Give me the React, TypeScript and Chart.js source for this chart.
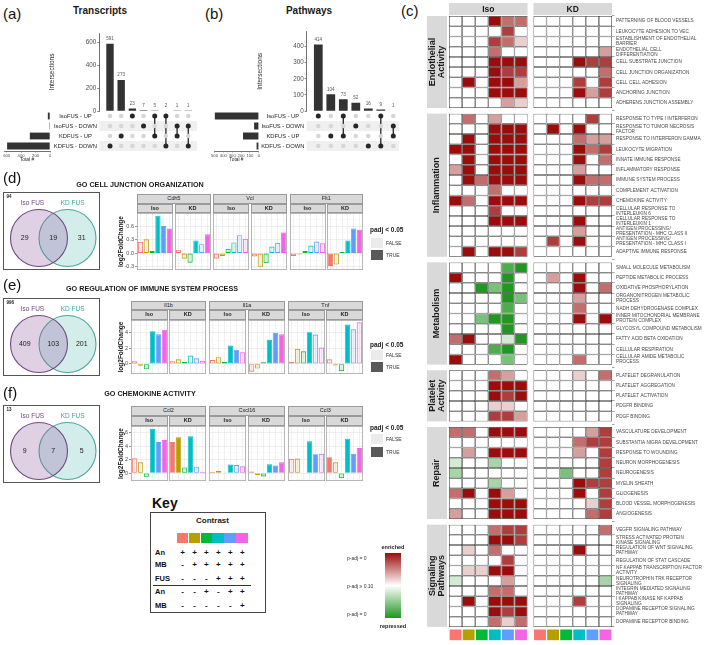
import React, { useEffect, useRef } from 'react';
import { Chart, registerables } from 'chart.js';

Chart.register(...registerables);

const FONT = "'Liberation Sans', Arial, Helvetica, sans-serif";
Chart.defaults.font.family = FONT;
Chart.defaults.color = '#4d4d4d';

/* ============================ DATA ============================ */
const CONTRAST_COLORS = ['#F8766D', '#B79F00', '#00BA38', '#00BFC4', '#619CFF', '#F564E3'];
const SET_NAMES = ['IsoFUS - UP', 'IsoFUS - DOWN', 'KDFUS - UP', 'KDFUS - DOWN'];

// (a) Transcripts upset
const TX_INTERSECTIONS = [591, 273, 23, 7, 5, 2, 1, 1];
const TX_MEMBERS = [[3], [2], [0], [1], [0, 2], [0, 3], [1, 2], [1, 3]];
const TX_SET_SIZES = [30, 9, 279, 594];
const TX_COUNT_TICKS = [0, 200, 400, 600];
const TX_TOTAL_TICKS = [0, 200, 400, 600];

// (b) Pathways upset
const PW_INTERSECTIONS = [414, 104, 73, 52, 16, 9, 1];
const PW_MEMBERS = [[0], [2], [0, 2], [1], [3], [0, 3], [1, 2]];
const PW_SET_SIZES = [496, 53, 178, 25];
const PW_COUNT_TICKS = [0, 100, 200, 300, 400];
const PW_TOTAL_TICKS = [0, 100, 200, 300, 400, 500];

// (c) heatmap: levels -5 (repressed) .. 0 (n.s.) .. 5 (enriched); 6 Iso columns then 6 KD columns
const HM_FACETS = ['Iso', 'KD'];
const HM_GROUPS = [['Endothelial', 'Activity'], ['Inflammation'], ['Metabolism'], ['Platelet', 'Activity'], ['Repair'], ['Signaling', 'Pathways']];

const HM_ENDOTHELIAL_TERMS: any[] = [
  'PATTERNING OF BLOOD VESSELS', 'LEUKOCYTE ADHESION TO VEC', ['ESTABLISHMENT OF ENDOTHELIAL', 'BARRIER'],
  ['ENDOTHELIAL CELL', 'DIFFERENTIATION'], 'CELL SUBSTRATE JUNCTION', 'CELL JUNCTION ORGANIZATION',
  'CELL CELL ADHESION', 'ANCHORING JUNCTION', 'ADHERENS JUNCTION ASSEMBLY',
];
const HM_ENDOTHELIAL = [
  [0, 0, 0, 5, 3, 3, 0, 0, 0, 0, 0, 0],
  [0, 0, 0, 0, 4, 0, 0, 0, 0, 0, 0, 0],
  [0, 0, 0, 4, 3, 1, 0, 0, 0, 0, 0, 0],
  [0, 0, 0, 3, 0, 0, 0, 0, 0, 0, 0, 2],
  [0, 0, 0, 5, 5, 5, 0, 0, 0, 5, 4, 4],
  [0, 0, 0, 5, 4, 4, 0, 0, 0, 0, 0, 3],
  [0, 5, 0, 5, 5, 2, 0, 0, 0, 4, 0, 4],
  [0, 0, 0, 5, 5, 5, 0, 0, 0, 5, 2, 4],
  [0, 0, 0, 0, 2, 1, 0, 0, 0, 0, 0, 0],
];

const HM_INFLAMMATION_TERMS: any[] = [
  'RESPONSE TO TYPE I INTERFERON', ['RESPONSE TO TUMOR NECROSIS', 'FACTOR'], 'RESPONSE TO INTERFERON GAMMA',
  'LEUKOCYTE MIGRATION', 'INNATE IMMUNE RESPONSE', 'INFLAMMATORY RESPONSE', 'IMMUNE SYSTEM PROCESS',
  'COMPLEMENT ACTIVATION', 'CHEMOKINE ACTIVITY', ['CELLULAR RESPONSE TO', 'INTERLEUKIN 6'],
  ['CELLULAR RESPONSE TO', 'INTERLEUKIN 1'], ['ANTIGEN PROCESSING/', 'PRESENTATION - MHC CLASS II'],
  ['ANTIGEN PROCESSING/', 'PRESENTATION - MHC CLASS I'], 'ADAPTIVE IMMUNE RESPONSE',
];
const HM_INFLAMMATION = [
  [0, 3, 0, 2, 0, 0, 0, 0, 0, 0, 4, 0],
  [0, 0, 0, 5, 5, 5, 0, 5, 0, 5, 0, 0],
  [0, 5, 0, 5, 5, 5, 0, 0, 0, 3, 2, 2],
  [5, 5, 0, 5, 5, 5, 0, 0, 0, 5, 3, 4],
  [0, 5, 0, 5, 5, 5, 0, 0, 0, 5, 0, 3],
  [2, 5, 0, 5, 5, 5, 0, 0, 0, 2, 0, 0],
  [0, 5, 3, 5, 5, 5, 0, 0, 0, 5, 3, 3],
  [0, 0, 0, 3, 0, 0, 0, 0, 0, 0, 0, 0],
  [5, 3, 0, 5, 5, 5, 0, 0, 0, 5, 4, 4],
  [0, 0, 0, 4, 0, 0, 0, 0, 0, 0, 0, 0],
  [0, 0, 0, 5, 5, 5, 0, 0, 0, 5, 0, 0],
  [0, 0, 0, 0, 0, 0, 0, 0, 0, 2, 0, 0],
  [0, 0, 0, 0, 0, 0, 0, 4, 0, 5, 0, 0],
  [0, 5, 0, 5, 5, 4, 0, 0, 0, 0, 0, 0],
];

const HM_METABOLISM_TERMS: any[] = [
  'SMALL MOLECULE METABOLISM', 'PEPTIDE METABOLIC PROCESS', 'OXIDATIVE PHOSPHORYLATION',
  ['ORGANONITROGEN METABOLIC', 'PROCESS'], 'NADH DEHYDROGENASE COMPLEX',
  ['INNER MITOCHONDRIAL MEMBRANE', 'PROTEIN COMPLEX'], 'GLYCOSYL COMPOUND METABOLISM',
  'FATTY ACID BETA OXIDATION', 'CELLULAR RESPIRATION', ['CELLULAR AMIDE METABOLIC', 'PROCESS'],
];
const HM_METABOLISM = [
  [0, 0, 0, 0, -4, -5, 0, 0, 0, 0, 0, 0],
  [5, 0, 0, 0, -5, 0, 0, 2, 0, 5, 0, 0],
  [0, 0, -5, -3, -5, 0, 0, 0, 0, 5, 0, 3],
  [0, 0, 0, 0, -5, -3, 0, 0, 0, 2, 0, 0],
  [0, 0, 0, 0, -4, 0, 0, 0, 0, 3, 0, 0],
  [0, 0, -3, -5, -5, 0, 0, 0, 0, 5, 0, 5],
  [0, 0, 0, 0, -5, 0, 0, 0, 0, 0, 0, 0],
  [3, 5, 0, 0, -1, -5, 0, 0, 0, 0, 0, 0],
  [0, 0, 0, -4, -5, 0, 0, 0, 0, 0, 0, 0],
  [5, 0, 0, 0, -3, 0, 0, 0, 0, 3, 0, 0],
];

const HM_PLATELET_TERMS: any[] = [
  'PLATELET DEGRANULATION', 'PLATELET AGGREGATION', 'PLATELET ACTIVATION', 'PDGFR BINDING', 'PDGF BINDING',
];
const HM_PLATELET = [
  [0, 0, 0, 3, 2, 0, 0, 0, 0, 1, 0, 3],
  [0, 0, 0, 5, 5, 5, 0, 0, 0, 0, 0, 0],
  [0, 0, 0, 5, 4, 5, 0, 0, 0, 0, 0, 0],
  [0, 0, 0, 1, 1, 0, 0, 0, 0, 0, 0, 0],
  [0, 0, 0, 4, 4, 2, 0, 0, 0, 0, 0, 0],
];

const HM_REPAIR_TERMS: any[] = [
  'VASCULATURE DEVELOPMENT', 'SUBSTANTIA NIGRA DEVELOPMENT', 'RESPONSE TO WOUNDING', 'NEURON MORPHOGENESIS',
  'NEUROGENESIS', 'MYELIN SHEATH', 'GLIOGENESIS', 'BLOOD VESSEL MORPHOGENESIS', 'ANGIOGENESIS',
];
const HM_REPAIR = [
  [3, 3, 0, 5, 5, 5, 0, 0, 0, 0, 2, 4],
  [0, 0, 0, 0, 0, 0, 0, 0, 0, 3, 4, 4],
  [0, 2, 0, 5, 5, 5, 0, 0, 0, 2, 0, 4],
  [-1, 0, 0, -2, 0, 0, 0, 0, 0, 0, 0, 4],
  [-2, 0, 0, 0, 0, 0, 0, 0, -3, 0, 0, 4],
  [0, 0, 0, -2, 0, 0, 0, 0, 0, 5, 4, 4],
  [3, 5, 0, 5, 2, 0, 0, 0, 0, 5, 0, 4],
  [0, 0, 0, 5, 5, 5, 0, 0, 0, 0, 1, 4],
  [2, 0, 0, 5, 5, 5, 0, 0, 0, 0, 3, 4],
];

const HM_SIGNALING_TERMS: any[] = [
  'VEGFR SIGNALING PATHWAY', ['STRESS ACTIVATED PROTEIN', 'KINASE SIGNALING'], ['REGULATION OF WNT SIGNALING', 'PATHWAY'],
  'REGULATION OF STAT CASCADE', ['NF KAPPAB TRANSCRIPTION FACTOR', 'ACTIVITY'], ['NEUROTROPHIN TRK RECEPTOR', 'SIGNALING'],
  ['INTEGRIN MEDIATED SIGNALING', 'PATHWAY'], ['I KAPPAB KINASE NF KAPPAB', 'SIGNALING'],
  ['DOPAMINE RECEPTOR SIGNALING', 'PATHWAY'], 'DOPAMINE RECEPTOR BINDING',
];
const HM_SIGNALING = [
  [0, 0, 0, 3, 4, 4, 0, 0, 0, 0, 0, 3],
  [0, 0, 0, 5, 5, 4, 0, 0, 0, 0, 0, 0],
  [0, 1, 0, 3, 0, 0, 0, 0, 0, 5, 0, 0],
  [0, 0, 0, 0, 4, 0, 0, 0, 0, 0, 0, 0],
  [0, 1, 1, 5, 5, 0, 0, 0, 0, 0, 0, 0],
  [-1, 0, 0, 0, 2, 0, 0, 0, 0, 0, 0, -2],
  [0, 0, 0, 3, 3, 0, 0, 0, 0, 0, 0, 0],
  [0, 5, 0, 5, 5, 5, 0, 0, 0, 4, 0, 0],
  [0, 0, 0, 5, 4, 5, 0, 0, 0, 0, 0, 0],
  [0, 0, 0, 3, 1, 3, 0, 0, 0, 0, 0, 0],
];

// (d) GO cell junction organization — facets: gene x (Iso, KD), 6 contrasts each
const D_GENES = ['Cdh5', 'Vcl', 'Flt1'];
const D_LFC = [
  [0.25, 0.31, 0.05, 0.83, 0.6, 0.55],
  [0.08, -0.12, -0.21, 0.28, 0.2, 0.42],
  [-0.12, -0.06, 0.1, 0.24, 0.4, 0.32],
  [-0.07, -0.31, -0.22, 0.15, 0.23, 0.46],
  [-0.06, -0.03, 0.05, 0.17, 0.26, 0.22],
  [-0.28, -0.25, 0.03, 0.28, 0.55, 0.52],
];
const D_SIG = [
  [0, 0, 0, 1, 1, 1],
  [0, 0, 0, 1, 0, 1],
  [0, 0, 0, 0, 0, 0],
  [0, 0, 0, 0, 0, 1],
  [0, 0, 0, 0, 0, 0],
  [1, 0, 1, 1, 1, 1],
];
const D_MAJOR = [-0.3, 0, 0.3, 0.6];
const D_MINOR = [-0.15, 0.15, 0.45, 0.75];
const D_VENN = [29, 19, 31];
const D_VENN_TOTAL = 94;

// (e) GO regulation of immune system process
const E_GENES = ['Il1b', 'Il1a', 'Tnf'];
const E_LFC = [
  [0.35, -0.25, -0.7, 4.2, 3.8, 4.4],
  [0.35, 0.6, 0.25, 1.07, 0.73, 0.4],
  [0.5, 0.86, 0.25, 2.36, 1.8, 1.5],
  [-1.0, -0.6, 0.2, 3.1, 4.0, 3.8],
  [0.25, 1.93, 1.63, 4.08, 3.78, 2.1],
  [0.6, -0.2, -0.94, 5.06, 4.46, 5.36],
];
const E_SIG = [
  [0, 0, 0, 1, 1, 1],
  [0, 0, 0, 0, 0, 0],
  [0, 0, 0, 1, 1, 0],
  [0, 0, 0, 1, 1, 1],
  [0, 0, 0, 1, 0, 0],
  [0, 0, 0, 1, 0, 0],
];
const E_MAJOR = [0, 2, 4];
const E_MINOR = [-1, 1, 3, 5];
const E_VENN = [409, 103, 201];
const E_VENN_TOTAL = 996;

// (f) GO chemokine activity
const F_GENES = ['Ccl2', 'Cxcl16', 'Ccl3'];
const F_LFC = [
  [2.2, 1.6, -0.55, 6.55, 4.6, 4.9],
  [4.6, 5.3, 0.84, 5.45, 0.95, 0.2],
  [0.15, 0.3, 0.1, 1.28, 1.2, 1.0],
  [0.25, -0.3, -0.5, 1.3, 1.13, 1.6],
  [2.1, 2.15, 0.05, 4.7, 2.8, 2.86],
  [2.36, 1.6, -0.74, 5.1, 2.86, 3.7],
];
const F_SIG = [
  [0, 0, 0, 1, 1, 1],
  [1, 1, 0, 1, 0, 0],
  [0, 0, 0, 1, 0, 0],
  [0, 0, 0, 1, 1, 1],
  [0, 0, 1, 1, 1, 0],
  [1, 0, 0, 1, 1, 1],
];
const F_MAJOR = [0, 2, 4, 6];
const F_MINOR = [-1, 1, 3, 5];
const F_VENN = [9, 7, 5];
const F_VENN_TOTAL = 13;

const VENN_SETS = ['Iso FUS', 'KD FUS'];
const FACET_CONDITIONS = ['Iso', 'KD'];

// Key
const KEY_FACTORS = ['An', 'MB', 'FUS', 'An', 'MB'];
const KEY_SIGNS = [
  ['+', '+', '+', '+', '+', '+'],
  ['-', '+', '+', '+', '+', '+'],
  ['-', '-', '-', '+', '+', '+'],
  ['-', '-', '+', '-', '+', '+'],
  ['-', '-', '-', '-', '-', '+'],
];

/* ============================ HELPERS ============================ */
const BASE: any = {
  responsive: false,
  maintainAspectRatio: false,
  animation: false,
  events: [],
  layout: { padding: 0, autoPadding: false },
  plugins: { legend: { display: false }, tooltip: { enabled: false }, title: { display: false } },
};

// fix an axis' thickness and drop the label overhang padding Chart.js adds
const fixW = (w: number) => (s: any) => { s.width = w; s.paddingTop = 0; s.paddingBottom = 0; };
const fixH = (h: number) => (s: any) => { s.height = h; s.paddingLeft = 0; s.paddingRight = 0; };

function ChartCanvas({ x, y, w, h, make }: any) {
  const ref = useRef<HTMLCanvasElement | null>(null);
  useEffect(() => {
    const chart = new Chart(ref.current as HTMLCanvasElement, make());
    return () => chart.destroy();
  }, []);
  return (
    <canvas
      ref={ref}
      width={w}
      height={h}
      style={{ position: 'absolute', left: x, top: y, width: w, height: h }}
    />
  );
}

function Label({ x, y, text, size, bold, color = '#1a1a1a', align = 'left' }: any) {
  const tx = align === 'center' ? '-50%' : align === 'right' ? '-100%' : '0';
  return (
    <div
      style={{
        position: 'absolute', left: x, top: y, transform: `translate(${tx}, -50%)`,
        fontSize: size, fontWeight: bold ? 700 : 400, color, fontFamily: FONT,
        whiteSpace: 'nowrap', lineHeight: 1,
      }}
    >
      {text}
    </div>
  );
}

function withAlpha(hex: string, a: number) {
  const n = parseInt(hex.slice(1), 16);
  return `rgba(${(n >> 16) & 255},${(n >> 8) & 255},${n & 255},${a})`;
}

const framePlugin = (color: string, lw: number) => ({
  id: 'frame',
  afterDraw(chart: any) {
    const { ctx, chartArea: a } = chart;
    ctx.save();
    ctx.strokeStyle = color;
    ctx.lineWidth = lw;
    ctx.strokeRect(a.left + lw / 2, a.top + lw / 2, a.right - a.left - lw, a.bottom - a.top - lw);
    ctx.restore();
  },
});

/* ---------- upset ---------- */
const barLabelPlugin = {
  id: 'barLabels',
  afterDatasetsDraw(chart: any) {
    const { ctx } = chart;
    const meta = chart.getDatasetMeta(0);
    const ds = chart.data.datasets[0].data;
    ctx.save();
    ctx.font = `4.6px ${FONT}`;
    ctx.fillStyle = '#555';
    ctx.textAlign = 'center';
    ctx.textBaseline = 'bottom';
    meta.data.forEach((el: any, i: number) => ctx.fillText(String(ds[i].y), el.x, el.y - 2.5));
    ctx.restore();
  },
};

const stripePlugin = {
  id: 'stripes',
  beforeDatasetsDraw(chart: any) {
    const { ctx, chartArea: a, scales } = chart;
    const y = scales.y;
    ctx.save();
    ctx.fillStyle = '#f0f0f0';
    SET_NAMES.forEach((_, j) => {
      if (j % 2 === 1) {
        const t = y.getPixelForValue(j - 0.5);
        const b = y.getPixelForValue(j + 0.5);
        ctx.fillRect(a.left, t, a.right - a.left, b - t);
      }
    });
    ctx.restore();
  },
};

function upsetBarConfig(inter: number[], ticks: number[], L: any) {
  return {
    type: 'bar',
    data: {
      datasets: [{
        data: inter.map((v, i) => ({ x: i, y: v })),
        backgroundColor: '#333333', barPercentage: L.barRatio, categoryPercentage: 1,
        grouped: false, inflateAmount: 0,
      }],
    },
    options: {
      ...BASE,
      layout: { autoPadding: false, padding: { top: L.barPadTop, left: 0, right: 0, bottom: 5 } },
      scales: {
        x: {
          type: 'linear', display: false, min: L.xMin, max: L.xMax, offset: false,
          afterBuildTicks: (s: any) => { s.ticks = inter.map((_, i) => ({ value: i })); },
        },
        y: {
          type: 'linear', min: 0, max: L.yMax,
          afterBuildTicks: (s: any) => { s.ticks = ticks.map((v) => ({ value: v })); },
          afterFit: fixW(L.axisW),
          ticks: { autoSkip: false, font: { size: 6.3 }, color: '#4d4d4d', padding: 1 },
          grid: { drawOnChartArea: false, drawTicks: true, tickLength: 2, color: '#4d4d4d', lineWidth: 0.7 },
          border: { display: true, color: '#4d4d4d', width: 0.8 },
          title: { display: true, text: 'Intersections', font: { size: 6.5 }, color: '#262626', padding: { top: L.titlePad, bottom: 0 } },
        },
      },
    },
    plugins: [barLabelPlugin],
  };
}

function upsetMatrixConfig(members: number[][], L: any) {
  const grey: any[] = [];
  members.forEach((m, i) => SET_NAMES.forEach((_, j) => { if (!m.includes(j)) grey.push({ x: i, y: j }); }));
  return {
    type: 'scatter',
    data: {
      datasets: [
        { data: grey, pointRadius: 2.3, backgroundColor: '#d6d6d6', pointBorderWidth: 0, borderWidth: 0, showLine: false, clip: false },
        ...members.map((m, i) => ({
          data: m.map((j) => ({ x: i, y: j })), showLine: true, borderColor: '#262626', borderWidth: 1.3,
          pointRadius: 2.5, backgroundColor: '#262626', pointBorderWidth: 0, clip: false,
        })),
      ],
    },
    options: {
      ...BASE,
      scales: {
        x: { type: 'linear', display: false, min: L.xMin, max: L.xMax },
        y: {
          type: 'linear', reverse: true, min: -0.5, max: 3.5,
          afterBuildTicks: (s: any) => { s.ticks = SET_NAMES.map((_, j) => ({ value: j })); },
          afterFit: fixW(L.matAxisW),
          ticks: {
            autoSkip: false, crossAlign: 'center', font: { size: 5.8 }, color: '#1f1f1f', padding: 2.3,
            callback: (v: any) => SET_NAMES[v],
          },
          grid: { display: false, drawTicks: false },
          border: { display: false },
        },
      },
    },
    plugins: [stripePlugin],
  };
}

function upsetSizeConfig(sizes: number[], ticks: number[], L: any) {
  return {
    type: 'bar',
    data: {
      datasets: [{
        data: sizes.map((v, j) => ({ y: j, x: v })),
        backgroundColor: '#333333', barPercentage: 0.68, categoryPercentage: 1, grouped: false, inflateAmount: 0,
      }],
    },
    options: {
      ...BASE,
      indexAxis: 'y',
      layout: { autoPadding: false, padding: { right: L.sizePadRight, left: L.sizePadLeft, top: 0, bottom: 0 } },
      scales: {
        y: {
          type: 'linear', display: false, reverse: true, min: -0.5, max: 3.5, offset: false,
          afterBuildTicks: (s: any) => { s.ticks = sizes.map((_, j) => ({ value: j })); },
        },
        x: {
          type: 'linear', reverse: true, min: 0, max: L.sizeMax,
          afterBuildTicks: (s: any) => { s.ticks = ticks.map((v) => ({ value: v })); },
          afterFit: fixH(12),
          ticks: { autoSkip: false, maxRotation: 0, minRotation: 0, font: { size: 4.2 }, color: '#4d4d4d', padding: 0.5 },
          grid: { drawOnChartArea: false, tickLength: 1.5, color: '#4d4d4d', lineWidth: 0.6 },
          border: { display: true, color: '#4d4d4d', width: 0.8 },
          title: { display: true, text: 'Total #', font: { size: 4.8 }, color: '#262626', padding: 0 },
        },
      },
    },
  };
}

function Upset({ inter, members, sizes, countTicks, totalTicks, L }: any) {
  return (
    <>
      <ChartCanvas {...L.bar} make={() => upsetBarConfig(inter, countTicks, L)} />
      <ChartCanvas {...L.mat} make={() => upsetMatrixConfig(members, L)} />
      <ChartCanvas {...L.size} make={() => upsetSizeConfig(sizes, totalTicks, L)} />
    </>
  );
}

const LAYOUT_A = {
  bar: { x: 45, y: 20, w: 152, h: 96 }, barPadTop: 13, axisW: 54.3, titlePad: 3.1, yMax: 685,
  xMin: -0.957, xMax: 7.78, barRatio: 0.66,
  mat: { x: 50, y: 111.3, w: 147, h: 40 }, matAxisW: 49.3,
  size: { x: 0, y: 111.3, w: 54, h: 52 }, sizePadLeft: 4, sizePadRight: 4, sizeMax: 637,
};
const LAYOUT_B = {
  bar: { x: 253, y: 20, w: 146, h: 96 }, barPadTop: 11.7, axisW: 53.7, titlePad: 3.1, yMax: 493,
  xMin: -0.928, xMax: 6.456, barRatio: 0.7,
  mat: { x: 258, y: 111.3, w: 141, h: 40 }, matAxisW: 48.7,
  size: { x: 205.5, y: 111.3, w: 58, h: 52 }, sizePadLeft: 8, sizePadRight: 5.2, sizeMax: 505.6,
};

/* ---------- heatmap ---------- */
const HM_GROUP_GAP = 0.55;
const HM_FACET_GAP = 0.45;
const HM_BLOCKS = [
  { terms: HM_ENDOTHELIAL_TERMS, levels: HM_ENDOTHELIAL },
  { terms: HM_INFLAMMATION_TERMS, levels: HM_INFLAMMATION },
  { terms: HM_METABOLISM_TERMS, levels: HM_METABOLISM },
  { terms: HM_PLATELET_TERMS, levels: HM_PLATELET },
  { terms: HM_REPAIR_TERMS, levels: HM_REPAIR },
  { terms: HM_SIGNALING_TERMS, levels: HM_SIGNALING },
];
const RED = [155, 12, 12];
const GREEN = [34, 150, 34];
function levelColor(v: any) {
  if (!v) return '#ffffff';
  const t = Math.min(1, Math.abs(v) / 5);
  const c = v > 0 ? RED : GREEN;
  const ch = (k: number) => Math.round(255 + (c[k] - 255) * t);
  return `rgb(${ch(0)},${ch(1)},${ch(2)})`;
}

function heatmapConfig() {
  const rows: any[] = [];
  let k = 0;
  HM_BLOCKS.forEach((blk, g) => blk.levels.forEach((lv, r) => {
    rows.push({ pos: k + g * HM_GROUP_GAP, label: blk.terms[r], levels: lv, g });
    k++;
  }));
  const colorPos = rows[rows.length - 1].pos + 1.28;
  const colX = (c: number) => (c < 6 ? c : c + HM_FACET_GAP);
  const cells: any[] = [];
  rows.forEach((row) => row.levels.forEach((v: number, c: number) => cells.push({ y: row.pos, x: [colX(c), colX(c) + 1], v })));
  const colorCells = HM_FACETS.flatMap((_, f) => CONTRAST_COLORS.map((col, i) => ({ y: colorPos, x: [colX(f * 6 + i), colX(f * 6 + i) + 1], col })));

  const stripPlugin = {
    id: 'heatStrips',
    afterDraw(chart: any) {
      const { ctx, chartArea: a, scales } = chart;
      const { x, y } = scales;
      ctx.save();
      ctx.textAlign = 'center';
      ctx.textBaseline = 'middle';
      HM_FACETS.forEach((f, i) => {
        const l = x.getPixelForValue(i * (6 + HM_FACET_GAP));
        const r = x.getPixelForValue(i * (6 + HM_FACET_GAP) + 6);
        ctx.fillStyle = '#d9d9d9';
        ctx.fillRect(l, 3, r - l, 12);
        ctx.fillStyle = '#1a1a1a';
        ctx.font = `bold 8.5px ${FONT}`;
        ctx.fillText(f, (l + r) / 2, 9.5);
      });
      HM_GROUPS.forEach((lines, g) => {
        const gr = rows.filter((r) => r.g === g);
        const t = y.getPixelForValue(gr[0].pos - 0.5);
        const b = y.getPixelForValue(gr[gr.length - 1].pos + 0.5);
        const l = a.left - 22;
        const w = 20;
        ctx.fillStyle = '#d9d9d9';
        ctx.fillRect(l, t, w, b - t);
        ctx.save();
        ctx.translate(l + w / 2, (t + b) / 2);
        ctx.rotate(-Math.PI / 2);
        ctx.fillStyle = '#1a1a1a';
        ctx.font = `bold 9px ${FONT}`;
        lines.forEach((ln, li) => ctx.fillText(ln, 0, (li - (lines.length - 1) / 2) * 9.5));
        ctx.restore();
      });
      ctx.restore();
    },
  };

  return {
    type: 'bar',
    data: {
      datasets: [
        {
          data: cells,
          backgroundColor: (c: any) => levelColor(c.raw ? c.raw.v : 0),
          borderColor: '#3a3a3a', borderWidth: 0.75, borderSkipped: false, inflateAmount: 0,
          barPercentage: 1, categoryPercentage: 1, grouped: false,
        },
        {
          data: colorCells,
          backgroundColor: (c: any) => (c.raw ? c.raw.col : '#ffffff'),
          borderColor: '#ffffff', borderWidth: 0.6, borderSkipped: false, inflateAmount: 0,
          barPercentage: 1.17, categoryPercentage: 1, grouped: false, clip: false,
        },
      ],
    },
    options: {
      ...BASE,
      indexAxis: 'y',
      layout: { autoPadding: false, padding: { left: 49, top: 16, bottom: 4, right: 0 } },
      scales: {
        x: { type: 'linear', display: false, min: 0, max: 12 + HM_FACET_GAP },
        y: {
          type: 'linear', position: 'right', reverse: true, offset: false, min: -0.5, max: colorPos + 0.6,
          afterBuildTicks: (s: any) => { s.ticks = rows.map((r) => ({ value: r.pos })); },
          afterFit: fixW(97),
          ticks: {
            autoSkip: false, font: { size: 4.7, lineHeight: 1.05 }, color: '#474747', padding: 1.5,
            callback: (_v: any, i: number) => rows[i].label,
          },
          grid: { drawOnChartArea: false, drawTicks: true, tickLength: 2.5, color: '#666', lineWidth: 0.6 },
          border: { display: false },
        },
      },
    },
    plugins: [stripPlugin],
  };
}

/* ---------- facet bar rows ---------- */
function panelConfig(values: number[], sig: number[], R: any, showAxis: boolean) {
  const ticks = [...R.major, ...R.minor].sort((a: number, b: number) => a - b);
  const isMajor = (v: number) => R.major.some((m: number) => Math.abs(m - v) < 1e-9);
  return {
    type: 'bar',
    data: {
      datasets: [{
        data: values.map((v, i) => ({ x: i, y: v })),
        backgroundColor: values.map((_, i) => (sig[i] ? CONTRAST_COLORS[i] : withAlpha(CONTRAST_COLORS[i], 0.12))),
        borderColor: CONTRAST_COLORS,
        borderWidth: 0.9, borderSkipped: false, inflateAmount: 0,
        barPercentage: 0.9, categoryPercentage: 1, grouped: false,
      }],
    },
    options: {
      ...BASE,
      scales: {
        x: {
          type: 'linear', min: -0.6, max: 5.6, offset: false,
          afterBuildTicks: (s: any) => { s.ticks = values.map((_, i) => ({ value: i })); },
          afterFit: fixH(0),
          ticks: { display: false },
          grid: { color: '#e8e8e8', lineWidth: 0.6, drawTicks: false, offset: false },
          border: { display: false },
        },
        y: {
          type: 'linear', min: R.yMin, max: R.yMax,
          afterBuildTicks: (s: any) => { s.ticks = ticks.map((v: number) => ({ value: v })); },
          afterFit: fixW(showAxis ? R.L.axisW : 0),
          ticks: {
            display: showAxis, autoSkip: false, font: { size: 5.5 }, color: '#4d4d4d', padding: 1,
            callback: (v: any) => (isMajor(v) ? Number(v).toFixed(R.decimals) : ''),
          },
          grid: {
            color: (c: any) => (c.tick && isMajor(c.tick.value) ? '#e3e3e3' : '#f3f3f3'),
            lineWidth: (c: any) => (c.tick && isMajor(c.tick.value) ? 0.6 : 0.4),
            drawTicks: showAxis, tickLength: 2,
            tickColor: (c: any) => (c.tick && isMajor(c.tick.value) ? '#4d4d4d' : 'rgba(0,0,0,0)'),
          },
          border: { display: false },
          title: { display: showAxis, text: 'log2FoldChange', font: { size: 6.5, weight: 'bold' }, color: '#1a1a1a', padding: 0 },
        },
      },
    },
    plugins: [framePlugin('#a6a6a6', 0.8)],
  };
}

const stripStyle = (x: number, y: number, w: number, h: number, bold: boolean): any => ({
  position: 'absolute', left: x, top: y, width: w, height: h, boxSizing: 'border-box',
  background: '#d9d9d9', border: '0.8px solid #9a9a9a', fontFamily: FONT, fontSize: 5.5,
  fontWeight: bold ? 700 : 400, color: '#1a1a1a', display: 'flex', alignItems: 'center',
  justifyContent: 'center', lineHeight: 1,
});

function FacetRow({ R }: any) {
  const L = R.L;
  const lefts: number[] = [];
  let x = L.x0;
  for (let i = 0; i < 6; i++) {
    lefts.push(x);
    x += L.w + (i % 2 === 0 ? L.gapIn : L.gapOut);
  }
  const subTop = L.stripTop + 9.5;
  return (
    <>
      {R.genes.map((g: string, gi: number) => (
        <div key={'g' + gi} style={stripStyle(lefts[gi * 2], L.stripTop, lefts[gi * 2 + 1] + L.w - lefts[gi * 2], 9.5, false)}>{g}</div>
      ))}
      {lefts.map((lx, i) => (
        <div key={'s' + i} style={stripStyle(lx, subTop, L.w, L.panelTop - subTop, true)}>{FACET_CONDITIONS[i % 2]}</div>
      ))}
      {lefts.map((lx, i) => (
        <ChartCanvas
          key={'p' + i}
          x={i === 0 ? lx - L.axisW : lx}
          y={L.panelTop}
          w={L.w + (i === 0 ? L.axisW : 0)}
          h={L.panelH}
          make={() => panelConfig(R.lfc[i], R.sig[i], R, i === 0)}
        />
      ))}
      <Label x={370} y={R.legend[0]} text="padj < 0.05" size={6.5} bold />
      <div style={{ position: 'absolute', left: 371, top: R.legend[1], width: 12, height: 9.5, background: '#ebebeb' }} />
      <div style={{ position: 'absolute', left: 371, top: R.legend[2], width: 12, height: 9.5, background: '#595959' }} />
      <Label x={386} y={R.legend[1] + 4.75} text="FALSE" size={5} color="#333" />
      <Label x={386} y={R.legend[2] + 4.75} text="TRUE" size={5} color="#333" />
    </>
  );
}

const ROW_D = {
  genes: D_GENES, lfc: D_LFC, sig: D_SIG, major: D_MAJOR, minor: D_MINOR, yMin: -0.37, yMax: 0.89, decimals: 1,
  L: { x0: 137, w: 36, gapIn: 1.5, gapOut: 2.75, axisW: 20, stripTop: 194, panelTop: 213, panelH: 57 },
  legend: [230, 238, 250],
};
const ROW_E = {
  genes: E_GENES, lfc: E_LFC, sig: E_SIG, major: E_MAJOR, minor: E_MINOR, yMin: -1.3, yMax: 5.65, decimals: 0,
  L: { x0: 130.7, w: 37, gapIn: 1.5, gapOut: 2.9, axisW: 14, stripTop: 300.5, panelTop: 320, panelH: 54 },
  legend: [345, 350, 362],
};
const ROW_F = {
  genes: F_GENES, lfc: F_LFC, sig: F_SIG, major: F_MAJOR, minor: F_MINOR, yMin: -1.17, yMax: 6.97, decimals: 0,
  L: { x0: 130.7, w: 37, gapIn: 1.5, gapOut: 2.9, axisW: 14, stripTop: 406, panelTop: 425.5, panelH: 55 },
  legend: [428, 434, 447],
};

/* ---------- venn ---------- */
function vennConfig(counts: number[]) {
  const labelPlugin = {
    id: 'vennLabels',
    afterDatasetsDraw(chart: any) {
      const { ctx, chartArea: a, scales } = chart;
      const { x, y } = scales;
      ctx.save();
      ctx.textAlign = 'center';
      ctx.textBaseline = 'middle';
      ctx.font = `7px ${FONT}`;
      ctx.fillStyle = '#222';
      [-0.5, 0.5, 1.5].forEach((p, i) => ctx.fillText(String(counts[i]), x.getPixelForValue(p), y.getPixelForValue(0)));
      ctx.font = `6.5px ${FONT}`;
      ctx.fillStyle = '#70497e';
      ctx.fillText(VENN_SETS[0], x.getPixelForValue(-0.23), a.top + 10);
      ctx.fillStyle = '#3aa898';
      ctx.fillText(VENN_SETS[1], x.getPixelForValue(1.18), a.top + 10);
      ctx.restore();
    },
  };
  return {
    type: 'bubble',
    data: {
      datasets: [
        { data: [{ x: 0, y: 0, r: 28.5 }], backgroundColor: 'rgba(150,100,165,0.3)', borderColor: '#6e4a82', borderWidth: 1.1, clip: false },
        { data: [{ x: 1, y: 0, r: 28.5 }], backgroundColor: 'rgba(110,195,185,0.3)', borderColor: '#49a79c', borderWidth: 1.1, clip: false },
      ],
    },
    options: {
      ...BASE,
      scales: {
        x: { type: 'linear', display: false, min: -1.228, max: 2.105 },
        y: { type: 'linear', display: false, min: -1, max: 1.451 },
      },
    },
    plugins: [labelPlugin],
  };
}

function Venn({ top, counts, total }: any) {
  return (
    <>
      <div style={{ position: 'absolute', left: 3, top, width: 97, height: 78, boxSizing: 'border-box', border: '1.5px solid #555' }} />
      <Label x={6.5} y={top + 4.5} text={String(total)} size={4.5} bold color="#222" />
      <ChartCanvas x={4} y={top + 1} w={95} h={76} make={() => vennConfig(counts)} />
    </>
  );
}

/* ============================ APP ============================ */
export default function App() {
  const keyColX = (i: number) => 176.7 + i * 11.93;
  const keyRowY = [552.7, 565, 579, 591.7, 606];
  return (
    <div style={{ position: 'absolute', left: 0, top: 0, width: 709, height: 645, background: '#fff', overflow: 'hidden', fontFamily: FONT }}>
      {/* (a) */}
      <Label x={3} y={13.3} text="(a)" size={15} color="#111" />
      <Label x={100} y={11.3} text="Transcripts" size={10} bold align="center" />
      <Upset inter={TX_INTERSECTIONS} members={TX_MEMBERS} sizes={TX_SET_SIZES} countTicks={TX_COUNT_TICKS} totalTicks={TX_TOTAL_TICKS} L={LAYOUT_A} />

      {/* (b) */}
      <Label x={205} y={12.5} text="(b)" size={15} color="#111" />
      <Label x={309} y={11.3} text="Pathways" size={10} bold align="center" />
      <Upset inter={PW_INTERSECTIONS} members={PW_MEMBERS} sizes={PW_SET_SIZES} countTicks={PW_COUNT_TICKS} totalTicks={PW_TOTAL_TICKS} L={LAYOUT_B} />

      {/* (c) */}
      <Label x={401} y={9.5} text="(c)" size={15} color="#111" />
      <ChartCanvas x={400} y={0} w={309} h={645} make={heatmapConfig} />

      {/* (d) */}
      <Label x={3} y={176.5} text="(d)" size={15} color="#111" />
      <Label x={140} y={185} text="GO CELL JUNCTION ORGANIZATION" size={7.2} bold align="center" />
      <Venn top={192} counts={D_VENN} total={D_VENN_TOTAL} />
      <FacetRow R={ROW_D} />

      {/* (e) */}
      <Label x={3} y={284} text="(e)" size={15} color="#111" />
      <Label x={152} y={289} text="GO REGULATION OF IMMUNE SYSTEM PROCESS" size={7.2} bold align="center" />
      <Venn top={298} counts={E_VENN} total={E_VENN_TOTAL} />
      <FacetRow R={ROW_E} />

      {/* (f) */}
      <Label x={3} y={391.5} text="(f)" size={15} color="#111" />
      <Label x={150} y={393.5} text="GO CHEMOKINE ACTIVITY" size={7.2} bold align="center" />
      <Venn top={405} counts={F_VENN} total={F_VENN_TOTAL} />
      <FacetRow R={ROW_F} />

      {/* Key */}
      <Label x={152} y={503} text="Key" size={14} bold color="#111" />
      <div style={{ position: 'absolute', left: 150, top: 512, width: 116, height: 101, boxSizing: 'border-box', border: '1.5px solid #444' }} />
      <Label x={212.5} y={520.5} text="Contrast" size={8} bold align="center" />
      {CONTRAST_COLORS.map((c, i) => (
        <div key={'kc' + i} style={{ position: 'absolute', left: keyColX(i), top: 532.7, width: 11.4, height: 10.6, background: c }} />
      ))}
      {KEY_FACTORS.map((f, r) => (
        <Label key={'kf' + r} x={155} y={keyRowY[r]} text={f} size={7.5} bold color="#111" />
      ))}
      {KEY_SIGNS.map((row, r) => row.map((s, i) => (
        <Label key={'ks' + r + '-' + i} x={keyColX(i) + 5.9} y={keyRowY[r]} text={s} size={8} bold align="center" color="#111" />
      )))}
      <div style={{ position: 'absolute', left: 153, top: 585, width: 98, height: 1.2, background: '#333' }} />

      {/* colour legend */}
      <Label x={393} y={548.3} text="enriched" size={5.5} bold align="center" color="#222" />
      <div style={{ position: 'absolute', left: 385, top: 553.3, width: 16, height: 65, background: 'linear-gradient(to bottom, #9b0c0c, #ffffff 50%, #1e961e)' }} />
      <Label x={347} y={557.7} text="p-adj = 0" size={5} color="#333" />
      <Label x={347} y={586} text="p-adj ≥ 0.10" size={5} color="#333" />
      <Label x={347} y={614} text="p-adj = 0" size={5} color="#333" />
      <Label x={393} y={627.3} text="repressed" size={5.5} bold align="center" color="#222" />
    </div>
  );
}
